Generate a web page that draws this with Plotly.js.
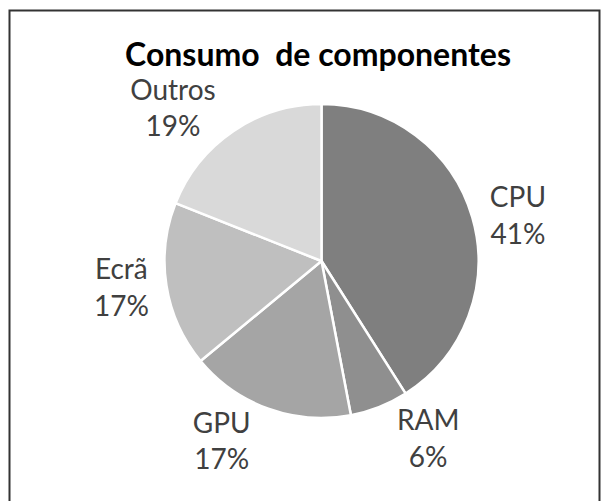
<!DOCTYPE html>
<html>
<head>
<meta charset="utf-8">
<script src="https://cdn.plot.ly/plotly-3.0.1.min.js"></script>
<style>
  html, body { margin: 0; padding: 0; background: #fff; }
  #plot { width: 604px; height: 501px; }
</style>
</head>
<body>
<div id="plot"></div>
<script>
// data
let components = ["CPU", "RAM", "GPU", "Ecrã", "Outros"];
let shares = [41, 6, 17, 17, 19];
let sliceColors = ["#7f7f7f", "#8f8f8f", "#a5a5a5", "#bfbfbf", "#d9d9d9"];

let trace = {
    type: "pie",
    labels: components,
    values: shares,
    sort: false,
    direction: "clockwise",
    rotation: 0,
    marker: { colors: sliceColors, line: { color: "#ffffff", width: 2.5 } },
    texttemplate: "%{label}<br>%{percent:.0%}",
    textposition: "outside",
    outsidetextfont: { family: "Lato, sans-serif", size: 28, color: "#404040" },
    hoverinfo: "label+percent",
    showlegend: false,
    domain: { x: [164 / 604, 479 / 604], y: [1 - 418 / 501, 1 - 104 / 501] }
};

let layout = {
    width: 604,
    height: 501,
    margin: { l: 0, r: 0, t: 0, b: 0 },
    paper_bgcolor: "#ffffff",
    title: {
        text: "<b>Consumo  de componentes</b>",
        font: { family: "Lato, sans-serif", size: 32, color: "#000000" },
        x: 318 / 604,
        xanchor: "center",
        y: 1 - 55 / 501,
        yanchor: "middle"
    },
    shapes: [{
        type: "rect",
        xref: "paper", yref: "paper",
        x0: 9.5 / 604, x1: 599.5 / 604,
        y0: -0.05, y1: 1 - 10.5 / 501,
        line: { color: "#333333", width: 2 }
    }]
};

Plotly.newPlot("plot", [trace], layout, { displayModeBar: false, staticPlot: true });
</script>
</body>
</html>
